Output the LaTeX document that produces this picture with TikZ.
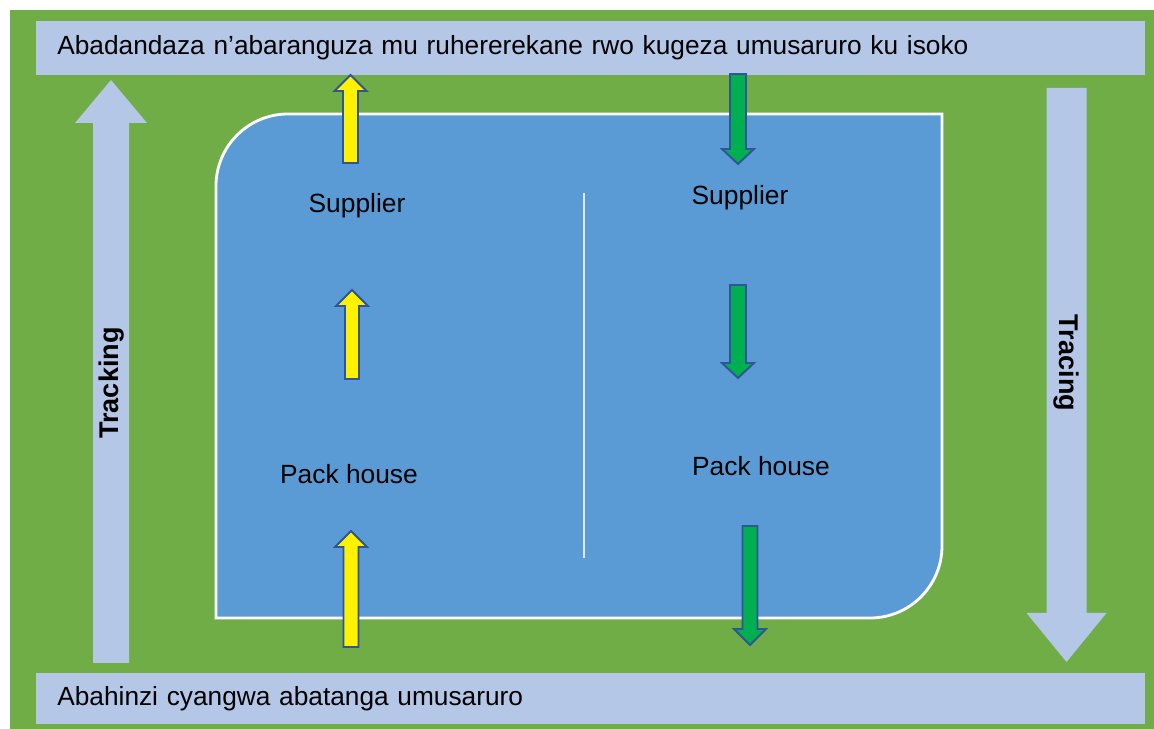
\documentclass[tikz,border=0pt]{standalone}
\usepackage{fontspec}
\setmainfont{Liberation Sans}
\usetikzlibrary{positioning}

\definecolor{bggreen}{HTML}{70AD47}
\definecolor{barblue}{HTML}{B4C7E7}
\definecolor{boxblue}{HTML}{5B9BD5}
\definecolor{arrowline}{HTML}{2F5597}
\definecolor{downgreen}{HTML}{00B050}

% block arrow: [style]{x}{tail y}{tip y}{half shaft}{half head}{signed head length}
\newcommand{\blkarrow}[7][]{%
  \draw[#1] ({#2-#5},#3) -- ({#2-#5},{#4+#7}) -- ({#2-#6},{#4+#7}) -- (#2,#4)
    -- ({#2+#6},{#4+#7}) -- ({#2+#5},{#4+#7}) -- ({#2+#5},#3) -- cycle;}

\begin{document}
\begin{tikzpicture}
  [x=0.02cm,y=-0.02cm,
   lbl/.style={font=\fontsize{15}{18}\selectfont,inner sep=0pt},
   bar/.style={fill=barblue,anchor=west,inner xsep=0.42cm,inner ysep=0pt,
     text width=21.34cm,align=left,font=\fontsize{14.95}{18}\selectfont},
   side/.style={font=\bfseries\fontsize{15.4}{18}\selectfont,inner sep=0pt},
   uparr/.style={fill=yellow,draw=arrowline,line width=1.1pt},
   dnarr/.style={fill=downgreen,draw=arrowline,line width=1.1pt},
   bigarr/.style={fill=barblue,draw=none}]
  \useasboundingbox (0,0) rectangle (1154,729);
  \fill[white] (0,0) rectangle (1154,729);
  \fill[bggreen] (10,10) rectangle (1154,729);

  % the two bars
  \node[bar,minimum height=1.08cm] (market) at (36,48)
    {Abadandaza n’abaranguza mu ruhererekane rwo kugeza umusaruro ku isoko};
  \node[bar,minimum height=1.02cm] (farmers) at (36,698.5)
    {Abahinzi cyangwa abatanga umusaruro};

  % big side arrows
  \blkarrow[bigarr]{111}{663}{80}{18}{36}{43}
  \blkarrow[bigarr]{1066.5}{88}{662}{20}{40}{(-49)}
  \node[side,rotate=90] (tracking) at (112,383) {Tracking};
  \node[side,rotate=-90] (tracing) at (1066,363) {Tracing};

  % chain box
  \draw[fill=boxblue,draw=white,line width=1.6pt]
    (216,618) -- (216,186) arc[start angle=180,end angle=270,radius=72]
    -- (942,114) -- (942,546) arc[start angle=0,end angle=90,radius=72] -- cycle;
  \draw[white,opacity=0.8,line width=0.7pt] (584,193) -- (584,558);

  \node[lbl] (sup1) at (357,206) {Supplier};
  \node[lbl] (pack1) at (349,474) {Pack house};
  \node[lbl] (sup2) at (740,198) {Supplier};
  \node[lbl] (pack2) at (761,466) {Pack house};

  % yellow arrows up
  \blkarrow[uparr]{350.5}{163}{75}{7.5}{16}{16}
  \blkarrow[uparr]{352}{379}{290}{7}{16}{16}
  \blkarrow[uparr]{351}{647}{531}{7.5}{16}{16}

  % green arrows down
  \blkarrow[dnarr]{738}{74}{164}{8}{16}{(-15)}
  \blkarrow[dnarr]{738}{285}{378}{8}{16}{(-15)}
  \blkarrow[dnarr]{750}{526}{645}{7.5}{16}{(-16)}
\end{tikzpicture}
\end{document}
